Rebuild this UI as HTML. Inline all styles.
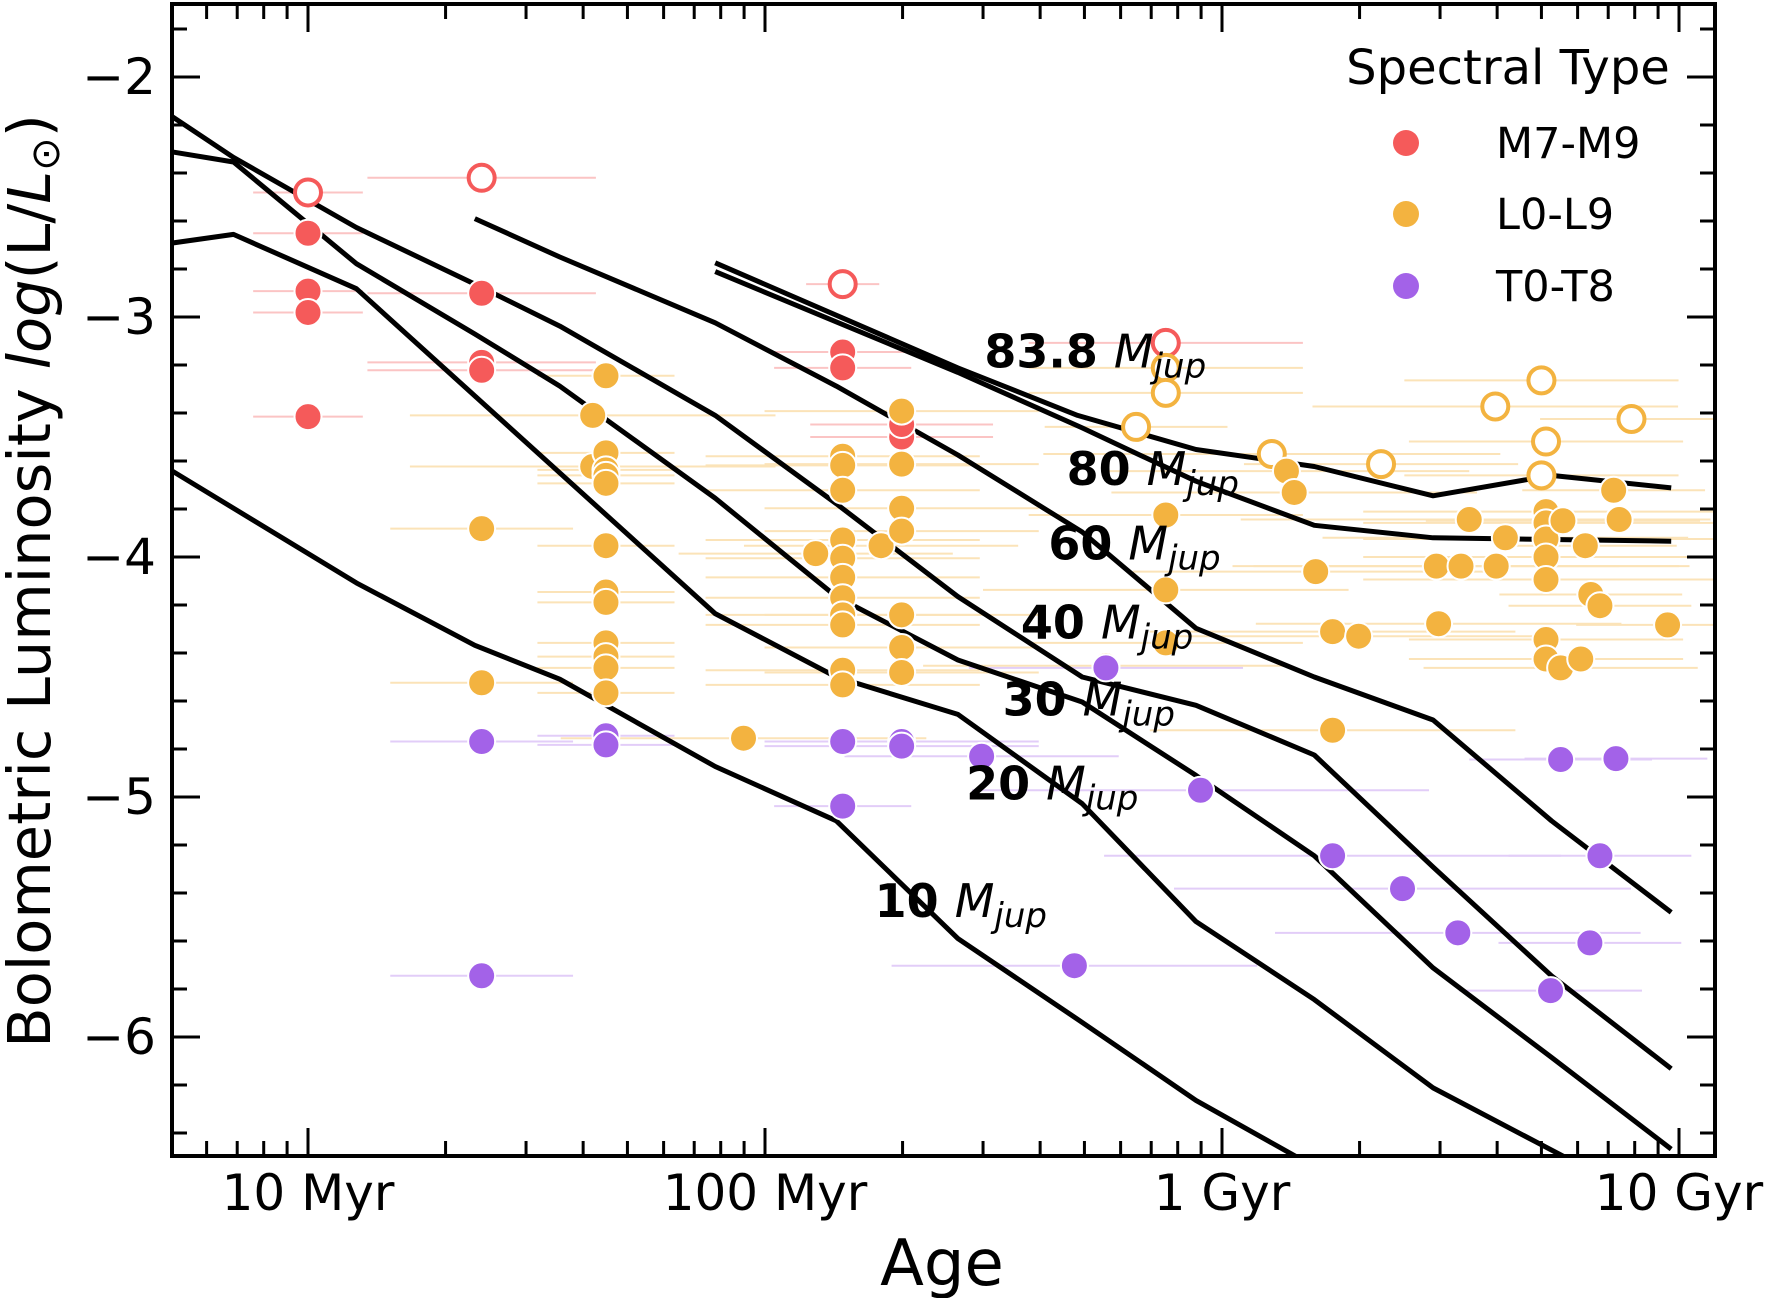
<!DOCTYPE html>
<html><head><meta charset="utf-8"><style>
html,body{margin:0;padding:0;background:#fff;}
svg{display:block;font-family:"DejaVu Sans","Liberation Sans",sans-serif;}
</style></head><body>
<svg id="chart" width="1770" height="1298" viewBox="0 0 1770 1298" xmlns="http://www.w3.org/2000/svg">
<defs><clipPath id="plotclip"><rect x="172" y="4" width="1543" height="1152"/></clipPath></defs>
<rect x="0" y="0" width="1770" height="1298" fill="#fff"/>
<g id="errs" clip-path="url(#plotclip)"></g>
<g id="tracks" clip-path="url(#plotclip)"></g>
<g id="pts" clip-path="url(#plotclip)"></g>
<g id="labels"></g>
<g id="axes"></g>
<g id="legend">
  <text x="1508" y="84" font-size="48" text-anchor="middle">Spectral Type</text>
  <circle cx="1406" cy="143" r="13" fill="#f55a5a"/>
  <text x="1496" y="158" font-size="43">M7-M9</text>
  <circle cx="1406" cy="214" r="13" fill="#f3b340"/>
  <text x="1496" y="229" font-size="43">L0-L9</text>
  <circle cx="1406" cy="286" r="13" fill="#a362e8"/>
  <text x="1496" y="301" font-size="43">T0-T8</text>
</g>
<text x="942" y="1285" font-size="64" text-anchor="middle">Age</text>
<text transform="translate(50,581) rotate(-90)" font-size="59" text-anchor="middle">Bolometric Luminosity <tspan font-style="italic">log</tspan>(L/<tspan font-style="italic">L</tspan><tspan font-size="40" dy="9">⊙</tspan><tspan dy="-9">)</tspan></text>
</svg>
<script>
// ---- data ----
const xTickVals = [7, 8, 9, 10];
const xTickLabels = ["10 Myr", "100 Myr", "1 Gyr", "10 Gyr"];
const yTickVals = [-2, -3, -4, -5, -6];
const yTickLabels = ["\u22122", "\u22123", "\u22124", "\u22125", "\u22126"];

const trackNames = ["83.8", "80", "60", "40", "30", "20", "10"];
const t838Age = [7.891, 8.422, 8.684, 8.943, 9.202, 9.462, 9.721, 9.983];
const t838Lum = [-2.774, -3.212, -3.410, -3.552, -3.623, -3.745, -3.660, -3.712];
const t80Age = [7.891, 8.422, 8.694, 8.820, 8.943, 9.202, 9.462, 9.983];
const t80Lum = [-2.811, -3.231, -3.462, -3.575, -3.684, -3.868, -3.920, -3.934];
const t60Age = [7.365, 7.551, 7.891, 8.156, 8.422, 8.694, 8.943, 9.202, 9.462, 9.721, 9.983];
const t60Lum = [-2.590, -2.750, -3.024, -3.288, -3.575, -3.896, -4.297, -4.500, -4.679, -5.099, -5.481];
const t40Age = [6.699, 6.837, 7.106, 7.365, 7.551, 7.891, 8.156, 8.422, 8.694, 8.943, 9.202, 9.462, 9.721, 9.983];
const t40Lum = [-2.160, -2.335, -2.627, -2.863, -3.038, -3.410, -3.778, -4.165, -4.500, -4.618, -4.825, -5.292, -5.745, -6.132];
const t30Age = [6.699, 6.837, 7.106, 7.365, 7.551, 7.891, 8.156, 8.422, 8.694, 8.943, 9.202, 9.462, 9.721, 9.983];
const t30Lum = [-2.311, -2.354, -2.778, -3.071, -3.288, -3.755, -4.165, -4.429, -4.604, -4.910, -5.245, -5.712, -6.085, -6.467];
const t20Age = [6.699, 6.837, 7.106, 7.891, 8.156, 8.422, 8.694, 8.943, 9.202, 9.462, 9.80];
const t20Lum = [-2.693, -2.656, -2.882, -4.236, -4.500, -4.656, -5.028, -5.519, -5.844, -6.212, -6.55];
const t10Age = [6.699, 7.106, 7.365, 7.551, 7.891, 8.156, 8.422, 8.694, 8.943, 9.22];
const t10Lum = [-3.637, -4.108, -4.368, -4.509, -4.873, -5.099, -5.590, -5.939, -6.264, -6.56];
const labelAge = [8.48, 8.66, 8.62, 8.56, 8.52, 8.44, 8.24];
const labelLum = [-3.21, -3.70, -4.01, -4.34, -4.66, -5.01, -5.50];

const ptAge = [7.0,7.0,7.0,7.0,7.0, 7.38,7.38,7.38,7.38,7.38,7.38,7.38,7.38,
 7.652,7.623,7.623,7.652,7.652,7.652,7.652,7.652,7.652,7.652,7.652,7.652,7.652,7.652,7.652,7.652,
 8.170,8.170,8.170,8.170,8.170,8.170,8.170,8.170,8.170,8.170,8.170,8.170,8.170,8.170,8.170,8.170,
 8.111,8.254,7.953,
 8.299,8.299,8.299,8.299,8.299,8.299,8.299,8.299,8.299,8.299,8.299,
 8.474,8.746,8.746,8.677,
 8.877,8.877,8.877,8.877,8.877,8.877,8.812,8.953,
 9.109,9.141,9.158,9.205,9.242,9.299,9.242,9.242,9.348,9.395,9.541,9.469,9.523,9.474,9.600,9.620,9.516,9.598,
 9.699,9.709,9.699,9.709,9.709,9.709,9.709,9.709,9.709,9.709,9.741,9.746,9.741,9.719,
 9.795,9.785,9.807,9.827,9.857,9.869,9.896,9.975,9.862,9.827,9.805];
const ptLum = [-2.481,-2.651,-2.892,-2.981,-3.415, -2.420,-2.901,-3.189,-3.222,-3.882,-4.524,-4.769,-5.745,
 -3.245,-3.410,-3.623,-3.566,-3.637,-3.660,-3.693,-3.953,-4.146,-4.189,-4.358,-4.415,-4.462,-4.566,-4.745,-4.783,
 -2.863,-3.146,-3.212,-3.580,-3.618,-3.722,-3.929,-4.005,-4.085,-4.170,-4.241,-4.283,-4.472,-4.533,-4.769,-5.038,
 -3.986,-3.953,-4.755,
 -3.500,-3.448,-3.392,-3.613,-3.797,-3.892,-4.241,-4.377,-4.481,-4.769,-4.788,
 -4.830,-4.453,-4.462,-5.703,
 -3.108,-3.212,-3.316,-3.825,-4.137,-4.358,-3.458,-4.972,
 -3.571,-3.642,-3.731,-4.061,-4.311,-4.330,-4.722,-5.245,-3.613,-5.382,-3.844,-4.038,-4.038,-4.278,-4.038,-3.920,-5.566,-3.373,
 -3.264,-3.519,-3.660,-3.811,-3.858,-3.925,-4.000,-4.094,-4.344,-4.425,-4.462,-3.849,-4.844,-5.807,
 -3.953,-4.425,-4.156,-4.203,-3.722,-3.844,-3.425,-4.283,-4.840,-5.245,-5.608];
const ptType = "MMMMMMMMMLLTT"+"LLLLLLLLLLLLLLTT"+"MMMLLLLLLLLLLLTT"+"LLL"+"MMLLLLLLLTT"+"TLTT"+"MLLLLLLT"+"LLLLLLLTLTLLLLLLTL"+"LLLLLLLLLLLLTT"+"LLLLLLLLTTT";
const ptOpen = "1000010000000"+"0000000000000000"+"1000000000000000"+"000"+"00000000000"+"0000"+"11100010"+"100000001000000001"+"11100000000000"+"00000010000";
const ptErr = [0.12,0.12,0.12,0.12,0.12, 0.25,0.25,0.25,0.25,0.2,0.2,0.2,0.2,
 0.15,0.4,0.4,0.15,0.15,0.15,0.15,0.15,0.15,0.15,0.15,0.15,0.15,0.15,0.15,0.15,
 0.08,0.15,0.15,0.3,0.3,0.3,0.3,0.3,0.3,0.3,0.3,0.3,0.3,0.3,0.15,0.15,
 0.3,0.3,0.4,
 0.2,0.2,0.3,0.3,0.3,0.3,0.3,0.3,0.3,0.3,0.3,
 0.3,0.4,0.3,0.4,
 0.3,0.3,0.3,0.3,0.4,0.3,0.2,0.5,
 0.5,0.4,0.4,0.4,0.4,0.4,0.4,0.5,0.3,0.5,0.5,0.4,0.5,0.4,0.4,0.4,0.4,0.4,
 0.3,0.3,0.3,0.4,0.4,0.4,0.4,0.4,0.3,0.3,0.3,0.3,0.2,0.2,
 0.2,0.2,0.2,0.2,0.2,0.2,0.2,0.2,0.2,0.2,0.2];

// ---- scales ----
const NS = "http://www.w3.org/2000/svg";
function xs(a){ return 308 + (a - 7) * 457; }
function ys(l){ return 77 + (-2 - l) * 240; }
const colors = {M:"#f55a5a", L:"#f3b340", T:"#a362e8"};
const errColors = {M:"#fbc4c4", L:"#fbe3b8", T:"#e2cdf8"};
function mk(tag, attrs, parent){ const e=document.createElementNS(NS,tag); for(const k in attrs) e.setAttribute(k,attrs[k]); parent.appendChild(e); return e; }

// error bars
const gE = document.getElementById('errs');
for(let i=0;i<ptAge.length;i++){
  const t = ptType[i];
  const l = mk('line',{x1:xs(ptAge[i]-ptErr[i]),x2:xs(ptAge[i]+ptErr[i]),y1:ys(ptLum[i]),y2:ys(ptLum[i]),stroke:errColors[t],'stroke-width':2},gE);
  
  
}
// tracks
const gT = document.getElementById('tracks');
const trackAges = [t838Age,t80Age,t60Age,t40Age,t30Age,t20Age,t10Age];
const trackLums = [t838Lum,t80Lum,t60Lum,t40Lum,t30Lum,t20Lum,t10Lum];
for(let k=0;k<trackAges.length;k++){
  const pts = trackAges[k].map((a,j)=>xs(a).toFixed(1)+","+ys(trackLums[k][j]).toFixed(1)).join(" ");
  const p = mk('polyline',{points:pts,fill:'none',stroke:'#000','stroke-width':5,'stroke-linejoin':'round'},gT);
  
  
}
// points
const gP = document.getElementById('pts');
for(let i=0;i<ptAge.length;i++){
  const t = ptType[i], open = ptOpen[i]==="1";
  const c = open
    ? mk('circle',{cx:xs(ptAge[i]),cy:ys(ptLum[i]),r:13,fill:'#fff',stroke:colors[t],'stroke-width':4},gP)
    : mk('circle',{cx:xs(ptAge[i]),cy:ys(ptLum[i]),r:13.5,fill:colors[t],stroke:'#fff','stroke-width':2},gP);
  
  
}
// labels
const gL = document.getElementById('labels');
for(let k=0;k<trackNames.length;k++){
  const tx = mk('text',{x:xs(labelAge[k]),y:ys(labelLum[k]),'font-size':46},gL);
  tx.innerHTML = '<tspan font-weight="bold">'+trackNames[k]+' </tspan><tspan font-style="italic">M</tspan><tspan font-style="italic" font-size="34" dy="10">jup</tspan>';
  
  
}
// axes
const gA = document.getElementById('axes');
const X0=172,X1=1715,Y0=4,Y1=1156;
const frame = mk('rect',{x:X0,y:Y0,width:X1-X0,height:Y1-Y0,fill:'none',stroke:'#000','stroke-width':4},gA);


// x ticks
for(let d=6; d<=10; d++){
  for(let m=1;m<10;m++){
    const a = d + Math.log10(m);
    const x = xs(a);
    if(x<X0+2||x>X1-2) continue;
    const len = m===1?28:15;
    const t1 = mk('line',{x1:x,x2:x,y1:Y1,y2:Y1-len,stroke:'#000','stroke-width':3},gA);
    
    
    const t2 = mk('line',{x1:x,x2:x,y1:Y0,y2:Y0+len,stroke:'#000','stroke-width':3},gA);
    
    
  }
}
xTickVals.forEach((v,i)=>{
  const t = mk('text',{x:xs(v),y:1210,'font-size':50,'text-anchor':'middle'},gA);
  t.textContent = xTickLabels[i];
  
  
});
// y ticks
for(let v=-1.8; v>=-6.45; v-=0.2){
  const y = ys(v);
  const major = Math.abs(v-Math.round(v))<0.01;
  const len = major?28:15;
  const t1 = mk('line',{x1:X0,x2:X0+len,y1:y,y2:y,stroke:'#000','stroke-width':3},gA);
  
  
  const t2 = mk('line',{x1:X1,x2:X1-len,y1:y,y2:y,stroke:'#000','stroke-width':3},gA);
  
  
}
yTickVals.forEach((v,i)=>{
  const t = mk('text',{x:156,y:ys(v)+17,'font-size':50,'text-anchor':'end'},gA);
  t.textContent = yTickLabels[i];
  
  
});
</script>
</body></html>
